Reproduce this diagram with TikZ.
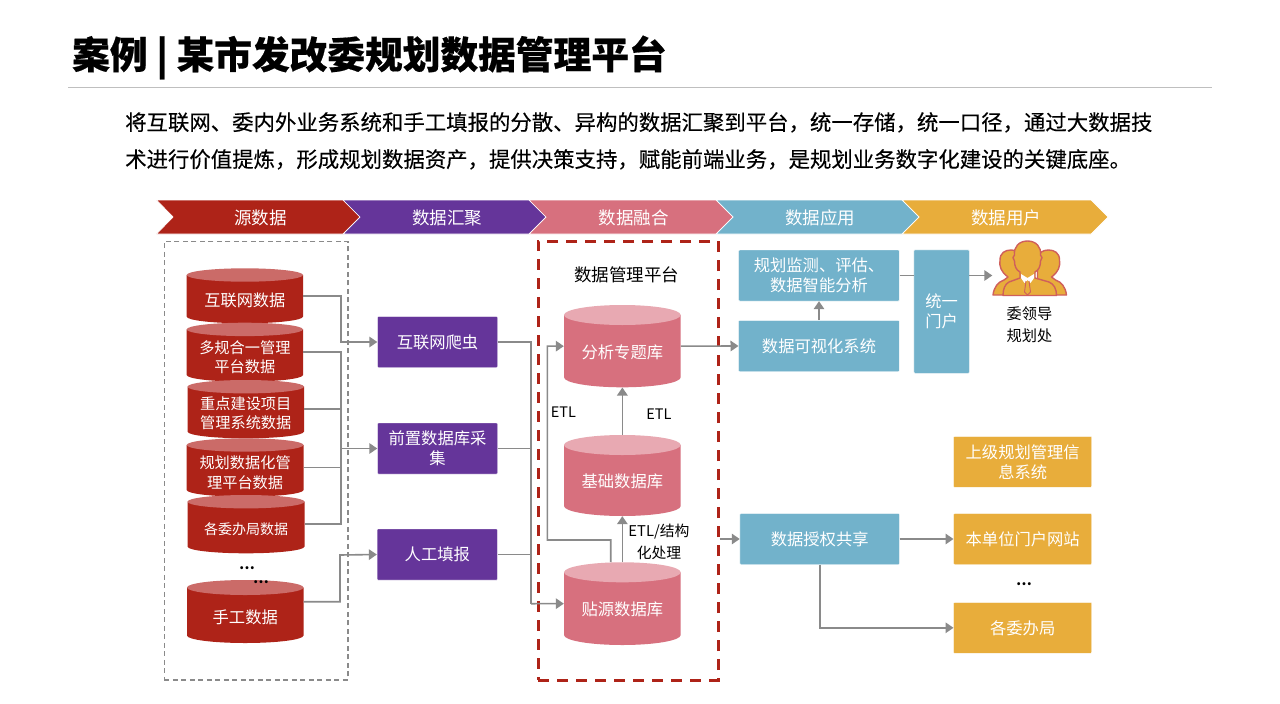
\documentclass[tikz,border=0pt]{standalone}
\usepackage{fontspec}
\setmainfont{Noto Sans CJK SC}
\usetikzlibrary{arrows.meta}
\definecolor{cred}{HTML}{AE2318}
\definecolor{credl}{HTML}{CB6B68}
\definecolor{cpur}{HTML}{65359A}
\definecolor{cpink}{HTML}{D7707E}
\definecolor{cpinkl}{HTML}{E8A9B2}
\definecolor{cblue}{HTML}{72B2CB}
\definecolor{cyel}{HTML}{E8AD3B}
\definecolor{cgray}{HTML}{8A8A8A}
\definecolor{cout}{HTML}{CF5F5B}
\newcommand{\fs}[2]{\fontsize{#1pt}{#2pt}\selectfont}
\tikzset{
  tbox/.style={draw=white,line width=0.4pt,rounded corners=0.8pt,inner sep=0pt,text=white,align=center,font=\fs{16.3}{20}},
  chev/.style={fill=#1,draw=white,line width=0.7pt},
  chevtext/.style={inner sep=0pt,text=white,font=\fs{17.5}{20}},
  cyltext/.style={inner sep=0pt,text=white,align=center,font=\fs{#1}{19.5}},
  cylshape/.style={inner sep=0pt,draw=none},
  dark/.style={inner sep=0pt,text=black,align=center,font=\fs{#1}{22}},
  conn/.style={draw=cgray,line width=1.6pt},
  arr/.style={conn,-{Triangle[length=8pt,width=10.5pt,fill=cgray]}},
  person/.style={fill=cyel,draw=cout,line width=1.4pt,line join=round},
}
% name, x1, top, x2, bottom, ry, dark colour, light colour, font size, then the node text
\newcommand{\cyl}[9]{%
  \pgfmathsetmacro{\ccx}{(#2+#4)/2}\pgfmathsetmacro{\ccy}{(#3+#5)/2}%
  \pgfmathsetmacro{\crx}{(#4-#2)/2}\pgfmathsetmacro{\cyt}{#3+#6}\pgfmathsetmacro{\cyb}{#5-#6}%
  \pgfmathsetmacro{\cwd}{#4-#2}\pgfmathsetmacro{\cht}{#5-#3}%
  \fill[#7] (#2,\cyt) -- (#2,\cyb) arc[start angle=180,end angle=360,x radius=\crx pt,y radius=#6pt] -- (#4,\cyt) -- cycle;
  \fill[#8] (\ccx,\cyt) ellipse[x radius=\crx pt,y radius=#6pt];
  \node[cylshape,minimum width=\cwd pt,minimum height=\cht pt] (#1) at (\ccx,\ccy) {};
  \node[cyltext=#9] (#1t) at ([yshift=-\cylshift pt]#1.center)
}
\newcommand{\cylshift}{5}
\begin{document}
\begin{tikzpicture}[x=1pt,y=-1pt]
\useasboundingbox (0,0) rectangle (1280,704);
\fill[white] (0,0) rectangle (1280,704);

% title and intro
\node[anchor=west,inner sep=0pt,font=\fs{37.7}{40}\bfseries\addfontfeature{FakeBold=0.5}] (title) at (72,57.5) {案例 | 某市发改委规划数据管理平台};
\coordinate (ruleL) at (68,87.5); \coordinate (ruleR) at (1212,87.5);
\draw[draw=black!25,line width=1pt] (ruleL) -- (ruleR);
\node[anchor=north west,inner sep=0pt,align=left,font=\fs{21.4}{37}\addfontfeature{FakeBold=0.25}] (intro) at (125,112)
 {将互联网、委内外业务系统和手工填报的分散、异构的数据汇聚到平台，统一存储，统一口径，通过大数据技\\术进行价值提炼，形成规划数据资产，提供决策支持，赋能前端业务，是规划业务数字化建设的关键底座。};

% chevrons
\draw[chev=cred]  (156.5,200) -- (343,200) -- (360,217) -- (343,234) -- (156.5,234) -- (173,217) -- cycle;
\draw[chev=cpur]  (343,200) -- (529,200) -- (546,217) -- (529,234) -- (343,234) -- (360,217) -- cycle;
\draw[chev=cpink] (529,200) -- (716,200) -- (733,217) -- (716,234) -- (529,234) -- (546,217) -- cycle;
\draw[chev=cblue] (716,200) -- (902,200) -- (919,217) -- (902,234) -- (716,234) -- (733,217) -- cycle;
\draw[chev=cyel]  (902,200) -- (1091,200) -- (1108,217) -- (1091,234) -- (902,234) -- (919,217) -- cycle;
\node[chevtext] (h1) at (260.5,218) {源数据};
\node[chevtext] (h2) at (447,218) {数据汇聚};
\node[chevtext] (h3) at (633.5,218) {数据融合};
\node[chevtext] (h4) at (820,218) {数据应用};
\node[chevtext] (h5) at (1006,218) {数据用户};

% frames
\node[draw=cgray,dash pattern=on 5pt off 3.5pt,line width=1.4pt,minimum width=183.5pt,minimum height=438.5pt,inner sep=0pt] (srcframe) at (256.2,460.7) {};
\node[draw=cred,dash pattern=on 11pt off 8pt,line width=3pt,minimum width=180pt,minimum height=439pt,inner sep=0pt] (platframe) at (628,460.5) {};

% red cylinders
\renewcommand{\cylshift}{5}
\cyl{s1}{186.7}{268.3}{303}{323.3}{6.7}{cred}{credl}{16.2}{互联网数据};
\cyl{s2}{186.7}{322.7}{303}{381.7}{6.7}{cred}{credl}{15.2}{多规合一管理\\平台数据};
\renewcommand{\cylshift}{4}
\cyl{s3}{187.5}{380}{304}{438.3}{6.7}{cred}{credl}{15.2}{重点建设项目\\管理系统数据};
\renewcommand{\cylshift}{5}
\cyl{s4}{186.7}{438.3}{303.5}{496.7}{6.7}{cred}{credl}{15.2}{规划数据化管\\理平台数据};
\cyl{s5}{187.5}{495}{304.5}{553.3}{6.7}{cred}{credl}{14}{各委办局数据};
\renewcommand{\cylshift}{6}
\cyl{s6}{187}{580}{303.5}{643}{7.5}{cred}{credl}{16.3}{手工数据};

% pink cylinders
\cyl{d1}{564}{305}{680.7}{387.3}{10}{cpink}{cpinkl}{16.3}{分析专题库};
\cyl{d2}{564}{435}{680.7}{516}{10}{cpink}{cpinkl}{16.3}{基础数据库};
\cyl{d3}{564}{562.3}{680.7}{645}{10}{cpink}{cpinkl}{16.3}{贴源数据库};

% collectors
\node[tbox,fill=cpur,minimum width=120pt,minimum height=51pt] (c1) at (437.5,342) {互联网爬虫};
\node[tbox,fill=cpur,minimum width=120pt,minimum height=51pt] (c2) at (437.5,448.5) {前置数据库采\\集};
\node[tbox,fill=cpur,minimum width=120.5pt,minimum height=51pt] (c3) at (437.3,554.5) {人工填报};

% applications
\node[tbox,fill=cblue,minimum width=160.6pt,minimum height=51pt] (a1) at (819,275.5) {规划监测、评估、\\数据智能分析};
\node[tbox,fill=cblue,minimum width=160.6pt,minimum height=51.4pt] (a2) at (819,346) {数据可视化系统};
\node[tbox,fill=cblue,minimum width=55.3pt,minimum height=123.3pt] (portal) at (941.6,311.6) {统一\\门户};
\node[tbox,fill=cblue,minimum width=159.5pt,minimum height=51pt] (a3) at (819.7,539) {数据授权共享};

% users
\node[tbox,fill=cyel,minimum width=138pt,minimum height=51pt] (u1) at (1022.7,461.8) {上级规划管理信\\息系统};
\node[tbox,fill=cyel,minimum width=138pt,minimum height=51pt] (u2) at (1022.7,539) {本单位门户网站};
\node[tbox,fill=cyel,minimum width=138pt,minimum height=51pt] (u3) at (1022.7,627.8) {各委办局};

% person icon
\draw[person] (993,295) .. controls (994,287) and (998,282) .. (1004,280) -- (1008,277) .. controls (1001,272) and (999,266) .. (1000,260) .. controls (1000,253) and (1005,250) .. (1011,250) .. controls (1017,250) and (1021,253) .. (1022,258) -- (1022,295) -- cycle;
\draw[person] (1066.5,295) .. controls (1065.5,287) and (1061.5,282) .. (1055.5,280) -- (1051.5,277) .. controls (1058.5,272) and (1060.5,266) .. (1059.5,260) .. controls (1059.5,253) and (1054.5,250) .. (1048.5,250) .. controls (1042.5,250) and (1038.5,253) .. (1037.5,258) -- (1037.5,295) -- cycle;
\draw[person] (1003,295.5) .. controls (1003,289) and (1005,284) .. (1009,282) -- (1020,278) -- (1020,272) .. controls (1016,270) and (1014.5,266) .. (1014.5,261) .. controls (1012.5,259) and (1012.5,256) .. (1014.5,255) .. controls (1013.5,247) and (1019,241) .. (1027.5,241) .. controls (1036,241) and (1041.5,247) .. (1040.5,255) .. controls (1042.5,256) and (1042.5,259) .. (1040.5,261) .. controls (1040.5,266) and (1039,270) .. (1035,272) -- (1035,278) -- (1049,282) .. controls (1054,284) and (1056.5,289) .. (1056.5,295.5) -- cycle;
\fill[white] (1021,274) -- (1027.5,278) -- (1034,274) -- (1034,278) -- (1030.5,283) -- (1027.5,280) -- (1024.5,283) -- (1021,278) -- cycle;
\draw[draw=cout,line width=0.9pt] (1026,281) -- (1024.5,292) -- (1027.5,295) -- (1030.5,292) -- (1029,281);
\node[minimum width=74pt,minimum height=56pt,inner sep=0pt] (leaders) at (1029.5,268) {};

% plain labels
\node[dark=15.2] (ul) at (1029.5,324.5) {委领导\\规划处};
\node[dark=17.5] (ptitle) at (626.5,275) {数据管理平台};
\node[dark=14.5] (e1) at (563.5,412.5) {ETL};
\node[dark=14.5] (e2) at (659,414) {ETL};
\node[dark=14.8] (e3) at (659,541.5) {ETL/结构\\化处理};
\node[dark=14,font=\fs{14}{16}\bfseries] (dots1) at (247,568.5) {…};
\node[dark=14,font=\fs{14}{16}\bfseries] (dots2) at (261,582.5) {…};
\node[dark=14,font=\fs{14}{16}\bfseries] (dots3) at (1024,584.5) {…};

% connectors: sources to collectors
\coordinate (b1) at (341,342); \coordinate (b2) at (341,448.5); \coordinate (b3) at (340,555);
\draw[arr] (s1.east) -| (b1) -- (c1.west);
\draw[conn] (s2.east) -| (b2);
\draw[conn] (s3.east) -| (b2);
\draw[conn] (s4.east) -| (b2);
\draw[conn] (s5.east) -| (b2);
\draw[arr] (b2) -- (c2.west);
\draw[arr] ([yshift=9.8pt]s6.east) -| (b3) -- (c3.west);

% collectors to platform
\coordinate (m) at (531,603.7);
\draw[conn] (c1.east) -| (m);
\draw[conn] (c2.east) -| (m);
\draw[conn] (c3.east) -| (m);
\draw[arr] (m) -- (d3.west);

% inside the platform
\coordinate (etlA) at (610.7,540); \coordinate (etlB) at (547.3,540);
\draw[arr] ([xshift=-11.6pt]d3.north) -- (etlA) -- (etlB) |- (d1.west);
\draw[arr] (d3.north) -- (d2.south);
\draw[arr] (d2.north) -- (d1.south);

% platform to applications
\draw[arr] (d1.east) -- (a2.west);
\draw[arr] (platframe.east |- a3.west) -- (a3.west);
\draw[arr] (a2.north) -- (a1.south);
\coordinate (po) at (portal.east |- a1.east);
\draw[conn] (a1.east) -- (portal.west |- a1.east);
\draw[arr] (po) -- (leaders.west |- po);
\draw[arr] (a3.east) -- (u2.west);
\draw[arr] (a3.south) |- (u3.west);
\end{tikzpicture}
\end{document}
